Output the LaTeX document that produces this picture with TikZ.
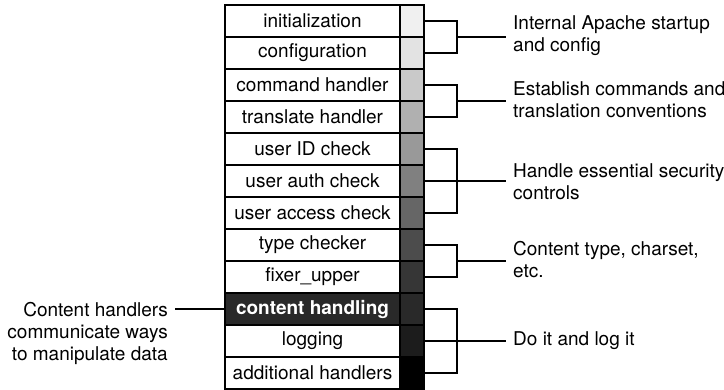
\documentclass[tikz,border=0pt]{standalone}
\usepackage{fontspec}
\setmainfont{TeX Gyre Heros}
\definecolor{sh1}{gray}{0.94}
\definecolor{sh2}{gray}{0.89}
\definecolor{sh3}{gray}{0.79}
\definecolor{sh4}{gray}{0.69}
\definecolor{sh5}{gray}{0.60}
\definecolor{sh6}{gray}{0.50}
\definecolor{sh7}{gray}{0.40}
\definecolor{sh8}{gray}{0.30}
\definecolor{sh9}{gray}{0.21}
\definecolor{sh10}{gray}{0.16}
\definecolor{sh11}{gray}{0.11}
\definecolor{sh12}{gray}{0.0}
\tikzset{pxp/.style={
  x=1pt,
  y=-1pt
}}
\tikzset{stage/.style={
  draw,
  fill=white,
  line width=1.8pt,
  minimum width=175pt,
  minimum height=32pt,
  inner sep=0pt,
  font=\fontsize{19}{22}\selectfont
}}
\tikzset{shade/.style={
  draw,
  line width=1.8pt,
  minimum width=24pt,
  minimum height=32pt,
  inner sep=0pt
}}
\tikzset{brk/.style={line width=1.7pt}}
\tikzset{note/.style={
  align=left,
  anchor=west,
  inner xsep=7pt,
  inner ysep=0pt,
  font=\fontsize{19}{22}\selectfont
}}
\begin{document}
\begin{tikzpicture}[pxp]
    \useasboundingbox (0,0) rectangle (724,390);

    % Stages
    \node[stage] (init) at (312.5,21) {initialization};
    \node[stage] (conf) at (312.5,53) {configuration};
    \node[stage] (cmd) at (312.5,85) {command handler};
    \node[stage] (trans) at (312.5,117) {translate handler};
    \node[stage] (uid) at (312.5,149) {user ID check};
    \node[stage] (uauth) at (312.5,181) {user auth check};
    \node[stage] (uacc) at (312.5,213) {user access check};
    \node[stage] (type) at (312.5,245) {type checker};
    \node[stage] (fixer) at (312.5,277) {fixer\_upper};
    \node[stage,fill=sh10,text=white,font=\fontsize{19}{22}\selectfont\bfseries]
      (content) at (312.5,309) {content handling};
    \node[stage] (log) at (312.5,341) {logging};
    \node[stage] (addl) at (312.5,373) {additional handlers};

    % Shade column
    \node[shade,fill=sh1] (init-g) at (412,21) {};
    \node[shade,fill=sh2] (conf-g) at (412,53) {};
    \node[shade,fill=sh3] (cmd-g) at (412,85) {};
    \node[shade,fill=sh4] (trans-g) at (412,117) {};
    \node[shade,fill=sh5] (uid-g) at (412,149) {};
    \node[shade,fill=sh6] (uauth-g) at (412,181) {};
    \node[shade,fill=sh7] (uacc-g) at (412,213) {};
    \node[shade,fill=sh8] (type-g) at (412,245) {};
    \node[shade,fill=sh9] (fixer-g) at (412,277) {};
    \node[shade,fill=sh10] (content-g) at (412,309) {};
    \node[shade,fill=sh11] (log-g) at (412,341) {};
    \node[shade,fill=sh12] (addl-g) at (412,373) {};

    % Brackets
    \coordinate (b1) at (457,37);
    \coordinate (b2) at (457,101);
    \coordinate (b3) at (457,181);
    \coordinate (b4) at (457,261);
    \coordinate (b5) at (457,341);
    \draw[brk] (init-g.east) -| (b1) |- (conf-g.east);
    \draw[brk] (cmd-g.east) -| (b2) |- (trans-g.east);
    \draw[brk] (uid-g.east) -| (b3) |- (uacc-g.east);
    \draw[brk] (uauth-g.east) -- (b3);
    \draw[brk] (type-g.east) -| (b4) |- (fixer-g.east);
    \draw[brk] (content-g.east) -| (b5) |- (addl-g.east);
    \draw[brk] (log-g.east) -- (b5);

    % Notes
    \node[note] (n1) at (506,36) {Internal Apache startup\\and config};
    \node[note] (n2) at (506,100) {Establish commands and\\translation conventions};
    \node[note] (n3) at (506,182) {Handle essential security\\controls};
    \node[note] (n4) at (506,260) {Content type, charset,\\etc.};
    \node[note] (n5) at (506,341) {Do it and log it};
    \draw[brk] (b1) -- (n1.west |- b1);
    \draw[brk] (b2) -- (n2.west |- b2);
    \draw[brk] (b3) -- (n3.west |- b3);
    \draw[brk] (b4) -- (n4.west |- b4);
    \draw[brk] (b5) -- (n5.west |- b5);

    \node[note,align=right,anchor=east,inner xsep=0pt] (lh) at (168,333)
      {Content handlers\\communicate ways\\to manipulate data};
    \coordinate (lhend) at (175,309);
    \draw[brk] (content.west) -- (lhend);

\end{tikzpicture}
\end{document}
